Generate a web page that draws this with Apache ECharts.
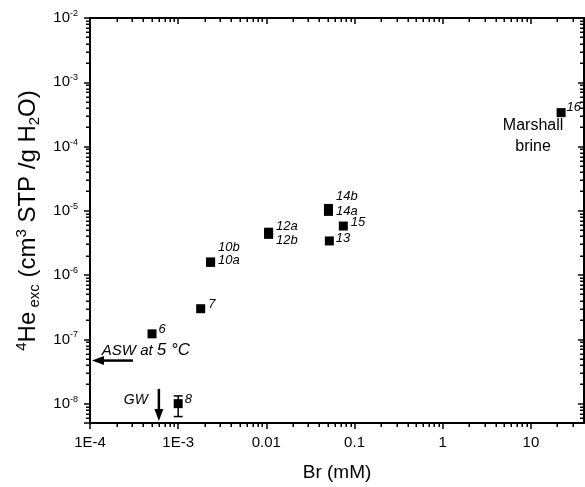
<!DOCTYPE html>
<html>
<head>
<meta charset="utf-8">
<script src="https://cdn.jsdelivr.net/npm/echarts@6/dist/echarts.min.js"></script>
<style>
  html, body { margin: 0; padding: 0; background: #fff; }
  #chart { width: 585px; height: 487px; }
</style>
</head>
<body>
<div id="chart"></div>
<script>
// Sample identifiers, bromide (mM) and excess 4He (cm3 STP / g H2O)
const samples = ['6', '7', '8', '10a', '10b', '12a', '12b', '13', '14a', '14b', '15', '16'];
const brValues = [5.05e-4, 1.80e-3, 1.0e-3, 2.33e-3, 2.33e-3, 0.0106, 0.0106, 0.0518, 0.0506, 0.0506, 0.0746, 22.0];
const heValues = [1.22e-7, 3.0e-7, 1.0e-8, 1.58e-6, 1.60e-6, 4.65e-6, 4.3e-6, 3.4e-6, 9.8e-6, 1.09e-5, 5.8e-6, 3.37e-4];

// Uncertainty of sample 8
const err8 = [1.0e-3, 6.3e-9, 1.32e-8];

// Reference levels: air-saturated water at 5 °C and groundwater Br
const aswHe = 4.68e-8;
const aswBrStart = 3.07e-4;
const gwBr = 6.04e-4;
const gwHeTop = 1.7e-8;

// Axis ranges and tick labels
const xRange = [1e-4, 40];
const yRange = [5e-9, 1e-2];
const xTickLabels = ['1E-4', '1E-3', '0.01', '0.1', '1', '10'];
const xTickExponents = [-4, -3, -2, -1, 0, 1];

const FONT = '"Liberation Sans", Arial, Helvetica, sans-serif';

// Placement of each sample label beside its marker
const labelLayout = {
  '6':   { d: 2, dy: -4 },
  '7':   { d: 3, dy: -4 },
  '8':   { d: 2, dy: -4 },
  '10a': { d: 3, dy: -2 },
  '10b': { d: 3, dy: -15 },
  '12a': { d: 3, dy: -6 },
  '12b': { d: 3, dy: 6 },
  '13':  { d: 2, dy: -3 },
  '14a': { d: 3, dy: 0 },
  '14b': { d: 3, dy: -12 },
  '15':  { d: 3, dy: -4 },
  '16':  { d: 1, dy: -5 }
};

// Minor (2..9 per decade) tick values for both log axes
function minorTicks(lo, hi) {
  const out = [];
  for (let e = Math.floor(Math.log10(lo)); e <= Math.ceil(Math.log10(hi)); e++) {
    for (let k = 2; k <= 9; k++) {
      const v = k * Math.pow(10, e);
      if (v > lo * 1.0001 && v < hi * 0.9999) out.push(v);
    }
  }
  return out;
}
const xMinor = minorTicks(xRange[0], xRange[1]);
const yMinor = minorTicks(yRange[0], yRange[1]);

function isDecade(v) {
  const e = Math.log10(v);
  return Math.abs(e - Math.round(e)) < 1e-6 ? Math.round(e) : null;
}

const axisLineStyle = { color: '#000', width: 2 };
const majorTickStyle = { color: '#000', width: 1.5 };

function logAxisBase(range) {
  return {
    type: 'log',
    logBase: 10,
    min: range[0],
    max: range[1],
    splitLine: { show: false },
    minorTick: { show: false },
    minorSplitLine: { show: false },
    axisLine: { show: true, onZero: false, lineStyle: axisLineStyle }
  };
}

const chart = echarts.init(document.getElementById('chart'), null, { renderer: 'canvas' });

const option = {
  animation: false,
  backgroundColor: '#fff',
  grid: { left: 90, right: 1, top: 18, bottom: 64 },
  xAxis: [
    Object.assign(logAxisBase(xRange), {
      position: 'bottom',
      axisTick: { show: true, inside: false, length: 6, lineStyle: majorTickStyle },
      axisLabel: {
        show: true,
        margin: 12,
        fontSize: 15,
        color: '#000',
        fontFamily: FONT,
        showMaxLabel: false,
        formatter: function (v) {
          const e = isDecade(v);
          if (e === null) return '';
          const i = xTickExponents.indexOf(e);
          return i >= 0 ? xTickLabels[i] : '';
        }
      },
      name: 'Br (mM)',
      nameLocation: 'middle',
      nameGap: 40,
      nameTextStyle: { fontSize: 19, color: '#000', fontFamily: FONT }
    }),
    Object.assign(logAxisBase(xRange), {
      position: 'top',
      axisTick: { show: true, inside: true, length: 6, lineStyle: majorTickStyle },
      axisLabel: { show: false }
    })
  ],
  yAxis: [
    Object.assign(logAxisBase(yRange), {
      position: 'left',
      axisTick: { show: true, inside: false, length: 6, lineStyle: majorTickStyle },
      axisLabel: {
        show: true,
        margin: 12,
        color: '#000',
        fontFamily: FONT,
        formatter: function (v) {
          const e = isDecade(v);
          if (e === null) return '';
          return '{b|10}{s|' + e + '}';
        },
        rich: {
          b: { fontSize: 15, color: '#000', fontFamily: FONT },
          s: { fontSize: 9, color: '#000', fontFamily: FONT, padding: [0, 0, 9, 0] }
        }
      },
      name: '{sup|4}{m|He}{sub| exc}{m| (cm}{sup|3}{m| STP /g H}{sub|2}{m|O)}',
      nameLocation: 'middle',
      nameRotate: 90,
      nameGap: 38,
      nameTextStyle: {
        color: '#000',
        fontFamily: FONT,
        rich: {
          m: { fontSize: 24, color: '#000', fontFamily: FONT },
          sup: { fontSize: 15, color: '#000', fontFamily: FONT, padding: [0, 0, 13, 0] },
          sub: { fontSize: 15, color: '#000', fontFamily: FONT, padding: [13, 0, 0, 0] }
        }
      }
    }),
    Object.assign(logAxisBase(yRange), {
      position: 'right',
      axisTick: { show: true, inside: true, length: 6, lineStyle: majorTickStyle },
      axisLabel: { show: false }
    })
  ],
  series: [
    // Minor ticks on all four sides of the frame, placed through the axis scales
    {
      type: 'custom',
      silent: true,
      clip: false,
      z: 1,
      data: xMinor.map(v => [v, yRange[1], 0]).concat(yMinor.map(v => [xRange[0], v, 1])),
      encode: { x: 0, y: 1 },
      renderItem: function (params, api) {
        const cs = params.coordSys;
        const len = 4;
        const st = { stroke: '#000', lineWidth: 1.5 };
        const p = api.coord([api.value(0), api.value(1)]);
        const left = cs.x, right = cs.x + cs.width, top = cs.y, bottom = cs.y + cs.height;
        if (api.value(2) === 0) {
          const x = Math.round(p[0]) + 0.25;
          return { type: 'group', children: [
            { type: 'line', shape: { x1: x, y1: bottom, x2: x, y2: bottom + len }, style: st },
            { type: 'line', shape: { x1: x, y1: top, x2: x, y2: top + len }, style: st }
          ] };
        }
        const y = Math.round(p[1]) + 0.25;
        return { type: 'group', children: [
          { type: 'line', shape: { x1: left - len, y1: y, x2: left, y2: y }, style: st },
          { type: 'line', shape: { x1: right - len, y1: y, x2: right, y2: y }, style: st }
        ] };
      }
    },
    // Sample markers with their labels
    {
      type: 'scatter',
      symbol: 'rect',
      symbolSize: 9,
      z: 3,
      itemStyle: { color: '#000', opacity: 1 },
      label: { fontStyle: 'italic', fontSize: 13, color: '#000', fontFamily: FONT },
      data: samples.map((s, i) => ({
        name: s,
        value: [brValues[i], heValues[i]],
        label: {
          show: true,
          formatter: s,
          position: 'right',
          distance: labelLayout[s].d,
          offset: [0, labelLayout[s].dy]
        }
      }))
    },
    // Error bar of sample 8
    {
      type: 'custom',
      silent: true,
      z: 2,
      data: [err8],
      encode: { x: 0, y: [1, 2] },
      renderItem: function (params, api) {
        const lo = api.coord([api.value(0), api.value(1)]);
        const hi = api.coord([api.value(0), api.value(2)]);
        const w = 4.5;
        const st = { stroke: '#000', lineWidth: 1.5 };
        return { type: 'group', children: [
          { type: 'line', shape: { x1: lo[0], y1: lo[1], x2: hi[0], y2: hi[1] }, style: st },
          { type: 'line', shape: { x1: lo[0] - w, y1: lo[1], x2: lo[0] + w, y2: lo[1] }, style: st },
          { type: 'line', shape: { x1: hi[0] - w, y1: hi[1], x2: hi[0] + w, y2: hi[1] }, style: st }
        ] };
      }
    },
    // ASW and GW arrows
    {
      type: 'custom',
      silent: true,
      clip: false,
      z: 2,
      data: [
        [aswBrStart, aswHe, xRange[0], aswHe],
        [gwBr, gwHeTop, gwBr, yRange[0]]
      ],
      encode: { x: [0, 2], y: [1, 3] },
      renderItem: function (params, api) {
        const a = api.coord([api.value(0), api.value(1)]);
        const b = api.coord([api.value(2), api.value(3)]);
        const dx = b[0] - a[0], dy = b[1] - a[1];
        const L = Math.sqrt(dx * dx + dy * dy);
        const ux = dx / L, uy = dy / L;
        const headLen = 12, headW = 4.5;
        // pull the tip slightly off the axis line
        const tip = [b[0] - ux * 2, b[1] - uy * 2];
        const base = [tip[0] - ux * headLen, tip[1] - uy * headLen];
        return { type: 'group', children: [
          { type: 'line', shape: { x1: a[0], y1: a[1], x2: base[0] + ux * 2, y2: base[1] + uy * 2 },
            style: { stroke: '#000', lineWidth: 2.5 } },
          { type: 'polygon', shape: { points: [
              tip,
              [base[0] - uy * headW, base[1] + ux * headW],
              [base[0] + uy * headW, base[1] - ux * headW]
            ] }, style: { fill: '#000' } }
        ] };
      }
    },
    // Text notes anchored to the arrows and to the brine sample
    {
      type: 'scatter',
      symbolSize: 0,
      silent: true,
      z: 4,
      itemStyle: { opacity: 1 },
      data: [
        { value: [aswBrStart, aswHe], label: { show: true, position: 'inside', offset: [13, -10],
          formatter: '{a|ASW at }{b|5 °C}',
          rich: {
            a: { fontSize: 15, fontStyle: 'italic', color: '#000', fontFamily: FONT },
            b: { fontSize: 17, fontStyle: 'italic', color: '#000', fontFamily: FONT }
          } } },
        { value: [gwBr, gwHeTop], label: { show: true, position: 'inside', offset: [-23, 11],
          formatter: 'GW', fontSize: 14, fontStyle: 'italic', color: '#000', fontFamily: FONT } },
        { value: [brValues[11], heValues[11]], label: { show: true, position: 'inside', offset: [-28, 23],
          formatter: 'Marshall\nbrine', fontSize: 16, lineHeight: 21, align: 'center', color: '#000', fontFamily: FONT } }
      ]
    }
  ]
};

chart.setOption(option);
</script>
</body>
</html>
